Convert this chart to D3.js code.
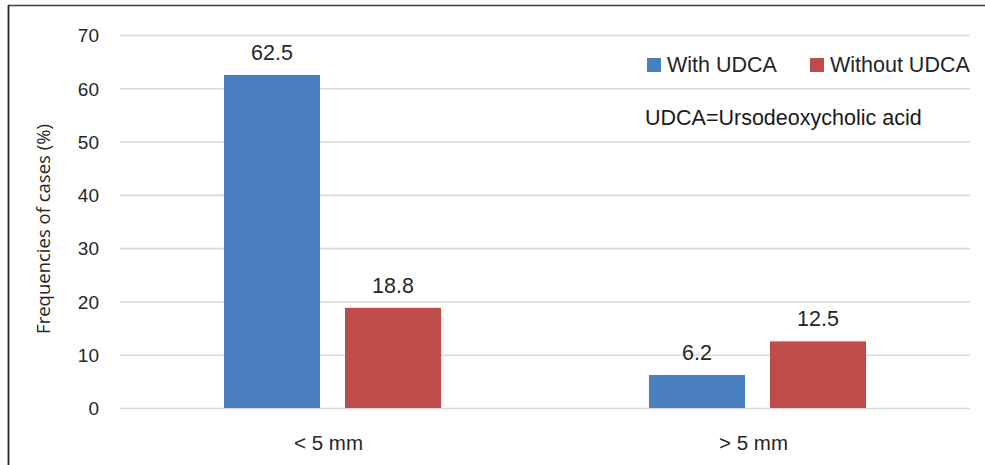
<!DOCTYPE html>
<html>
<head>
<meta charset="utf-8">
<script src="https://cdn.jsdelivr.net/npm/d3@7"></script>
<style>
  html, body { margin: 0; padding: 0; background: #fff; }
  svg { display: block; }
</style>
</head>
<body>
<svg id="chart" width="985" height="465"></svg>
<script>
// Stone size groups and the share of cases in each treatment arm
const categories = ["< 5 mm", "> 5 mm"];
const seriesNames = ["With UDCA", "Without UDCA"];
const withUDCA = [62.5, 6.2];
const withoutUDCA = [18.8, 12.5];
const yTicks = [0, 10, 20, 30, 40, 50, 60, 70];
const colors = ["#4a7fbf", "#bf4c4a"];

const svg = d3.select("#chart");
const plot = { left: 120, right: 970, top: 35, bottom: 408 };
const sans = "Liberation Sans, Arial, sans-serif";

const x0 = d3.scaleBand().domain(categories).range([plot.left, plot.right]).padding(0);
const x1 = d3.scaleBand().domain(seriesNames).range([0, x0.bandwidth()])
  .paddingInner(0.2066).paddingOuter(0.859);
const y = d3.scaleLinear().domain([0, 70]).range([plot.bottom, plot.top]);

// frame lines (top and left)
svg.append("line").attr("x1", 8).attr("x2", 985).attr("y1", 5.5).attr("y2", 5.5)
  .attr("stroke", "#404040").attr("stroke-width", 1.6);
svg.append("line").attr("x1", 8.5).attr("x2", 8.5).attr("y1", 5).attr("y2", 465)
  .attr("stroke", "#262626").attr("stroke-width", 1.8);

// gridlines and tick labels
const yAxis = d3.axisLeft(y).tickValues(yTicks).tickSize(-(plot.right - plot.left)).tickPadding(21);
const gy = svg.append("g").attr("transform", `translate(${plot.left},0)`).call(yAxis);
gy.select(".domain").remove();
gy.selectAll(".tick line").attr("stroke", "#d9d9d9").attr("stroke-width", 1.6);
gy.selectAll(".tick text").attr("font-family", sans)
  .attr("font-size", 19).attr("fill", "#262626").attr("dy", "0.36em");

// category labels
const xAxis = d3.axisBottom(x0).tickSize(0).tickPadding(27);
const gx = svg.append("g").attr("transform", `translate(0,${plot.bottom})`).call(xAxis);
gx.select(".domain").remove();
gx.selectAll(".tick text").attr("font-family", sans)
  .attr("font-size", 20.5).attr("fill", "#262626").attr("dx", -4);

// bars
const rows = categories.map((c, i) => ({ cat: c, vals: [withUDCA[i], withoutUDCA[i]] }));
const groups = svg.append("g").selectAll("g").data(rows).join("g")
  .attr("transform", d => `translate(${x0(d.cat)},0)`);
const cells = d => d.vals.map((v, j) => ({ name: seriesNames[j], v, j }));
groups.selectAll("rect").data(cells)
  .join("rect")
  .attr("x", d => x1(d.name))
  .attr("y", d => y(d.v))
  .attr("width", x1.bandwidth())
  .attr("height", d => y(0) - y(d.v))
  .attr("fill", d => colors[d.j]);
groups.selectAll("text.val").data(cells)
  .join("text").attr("class", "val")
  .attr("x", d => x1(d.name) + x1.bandwidth() / 2)
  .attr("y", d => y(d.v) - 15)
  .attr("text-anchor", "middle")
  .attr("font-family", sans)
  .attr("font-size", 21.5).attr("fill", "#262626")
  .text(d => d.v.toFixed(1));

// y axis title
svg.append("text")
  .attr("transform", "translate(50,229) rotate(-90)")
  .attr("text-anchor", "middle")
  .attr("font-family", "Open Sans, Noto Sans, sans-serif")
  .attr("font-size", 18.5).attr("fill", "#262626")
  .text("Frequencies of cases (%)");

// legend
const legendX = [647, 810];
const lg = svg.append("g").selectAll("g").data(seriesNames).join("g")
  .attr("transform", (d, i) => `translate(${legendX[i]},58)`);
lg.append("rect").attr("width", 14).attr("height", 14).attr("fill", (d, i) => colors[i]);
lg.append("text").attr("x", 20).attr("y", 14)
  .attr("font-family", sans)
  .attr("font-size", 21.5).attr("fill", "#262626")
  .text(d => d);

svg.append("text").attr("x", 645).attr("y", 125)
  .attr("font-family", sans)
  .attr("font-size", 21.5).attr("fill", "#1a1a1a")
  .text("UDCA=Ursodeoxycholic acid");
</script>
</body>
</html>
